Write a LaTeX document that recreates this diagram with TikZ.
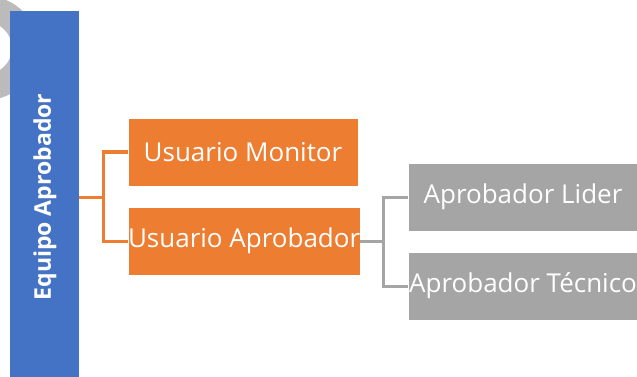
\documentclass[tikz,border=0pt]{standalone}
\usepackage{fontspec}
\setmainfont{Open Sans}
\definecolor{teamblue}{HTML}{4472C4}
\definecolor{userorange}{HTML}{ED7D31}
\definecolor{approvergrey}{HTML}{A5A5A5}
\begin{document}
\begin{tikzpicture}[x=1pt,y=-1pt,
  box/.style={anchor=north west, minimum width=230pt, minimum height=68pt,
    inner sep=0pt, outer sep=0pt, text=white, font=\fontsize{26}{26}\selectfont},
  orangebox/.style={box, fill=userorange, draw=white, line width=0.6pt},
  greybox/.style={box, fill=approvergrey, draw=white, line width=0.6pt},
  orangelink/.style={draw=userorange, line width=3pt},
  greylink/.style={draw=approvergrey, line width=3pt}]
\useasboundingbox (0,0) rectangle (637,377);
\begin{scope}
  \clip (0,0) rectangle (637,377);
  % partial grey ring behind the team bar
  \fill[approvergrey!75, even odd rule] (-14,48) circle (52pt) (-14,48) circle (26pt);
  % team bar
  \fill[teamblue] (10,11) rectangle (79,400);
\end{scope}
\node[rotate=90, text=white, font=\bfseries\fontsize{23}{23}\selectfont] (team) at (45,197) {Equipo Aprobador};
\coordinate (teamout) at (79,197);

\node[orangebox] (mon) at (128,118) {Usuario Monitor};
\node[orangebox] (apr) at (128,207) {Usuario Aprobador};
\node[greybox] (lid) at (408,163) {Aprobador Lider};
\node[greybox] (tec) at (408,252) {Aprobador Técnico};

% team to users
\draw[orangelink] (teamout) -- (103,197);
\draw[orangelink] (mon.west) -| (103,197) |- (apr.west);
% approver to approvers
\draw[greylink] (apr.east) -- (383,241);
\draw[greylink] (lid.west) -| (383,241) |- (tec.west);
\end{tikzpicture}
\end{document}
